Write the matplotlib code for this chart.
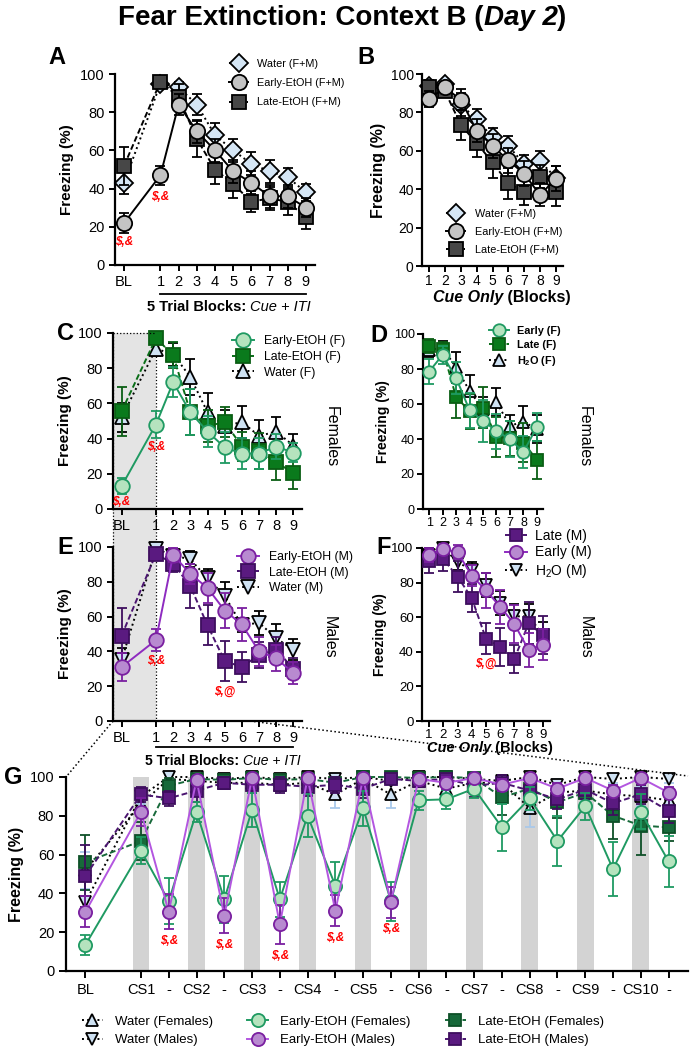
import matplotlib
matplotlib.use("Agg")
import matplotlib.pyplot as plt
from matplotlib.lines import Line2D
from matplotlib.patches import Rectangle
from matplotlib.text import Annotation
from matplotlib.transforms import blended_transform_factory

plt.rcParams["font.family"] = "Liberation Sans"
plt.rcParams["mathtext.fontset"] = "custom"
plt.rcParams["mathtext.rm"] = "Liberation Sans"
plt.rcParams["mathtext.bf"] = "Liberation Sans:bold"
plt.rcParams["mathtext.it"] = "Liberation Sans:italic"

# ---------------- data ----------------
blocks_bl = [-1, 1, 2, 3, 4, 5, 6, 7, 8, 9]
blocks_bl_labels = ["BL", "1", "2", "3", "4", "5", "6", "7", "8", "9"]
blocks = [1, 2, 3, 4, 5, 6, 7, 8, 9]

a_water = [43, 95, 93, 84, 68, 60, 53, 49, 46, 38]
a_water_err = [6, 2, 3, 5.5, 6.5, 6, 6, 6, 5, 4.5]
a_early = [22, 47, 84, 70, 60, 49, 43, 36, 36, 30]
a_early_err = [5, 5, 5.5, 6, 6, 6, 6, 6, 6, 5]
a_late = [52, 96, 88, 66, 50, 42.5, 33, 35, 33, 25]
a_late_err = [10, 2, 7, 9.5, 7.5, 7.5, 5.5, 6, 7, 6]

b_water = [94, 95, 84, 76.5, 67, 62.6, 53, 54.5, 46]
b_water_err = [3, 2, 6, 5.5, 5, 5, 5, 5.5, 6]
b_early = [87, 93, 86.5, 70.5, 62.5, 55, 48, 37, 45.5]
b_early_err = [4, 3, 5.5, 6, 6.5, 6.5, 6.5, 6, 6.5]
b_late = [93, 91, 73.5, 64, 54, 43, 38.5, 46.5, 38.5]
b_late_err = [3, 3, 8, 7, 8, 8, 6.5, 6, 7.5]

c_early = [13, 48, 72, 55, 44, 35, 31.5, 31.5, 35.5, 32]
c_early_err = [4.5, 7.5, 8.5, 13, 9, 9, 9, 9, 7, 5.5]
c_late = [55.5, 97, 87.5, 55, 47, 49.5, 35.5, 33, 26.5, 20.5]
c_late_err = [14, 2.5, 7.5, 13, 9, 8.5, 8, 10, 10, 9]
c_water = [52, 91, 88, 75, 55, 47, 49.5, 41.5, 44, 36]
c_water_err = [8, 4, 6.5, 10, 11, 9, 9, 9, 8, 6.5]

d_early = [78.5, 88, 75, 56.5, 50.5, 44.5, 40, 32.5, 47]
d_early_err = [7, 5, 9, 10, 12, 10, 10.5, 9, 8]
d_late = [93, 91.5, 64, 56, 58, 41, 40.5, 38, 28]
d_late_err = [4, 4, 12, 10, 11.5, 11.5, 10, 11, 11]
d_water = [91, 92, 81, 67.5, 57, 61, 47.5, 50, 45.5]
d_water_err = [4, 4, 9, 9, 7, 8, 6.5, 9, 8]

e_early = [31, 46.5, 95.5, 84.5, 76.5, 63.5, 55.5, 40, 36, 27.5]
e_early_err = [8, 6.5, 4, 6, 8.5, 10, 9.5, 8.5, 7.5, 6.5]
e_late = [49, 96, 90.5, 77.5, 55, 34.5, 31, 38, 41, 30]
e_late_err = [16, 3, 5, 12.5, 11.5, 11.5, 8.5, 7.5, 7, 6]
e_water = [35, 99, 95, 93, 82, 72, 55, 56.5, 47.5, 41]
e_water_err = [7, 2, 4, 4.5, 5.5, 8, 4, 7, 8, 6]

f_late = [92.5, 93.5, 83.5, 71, 47.5, 43, 36, 56.5, 49.5]
f_late_err = [7, 7, 9, 8, 9, 11, 8, 12, 11]
f_early = [96, 99.5, 97.5, 84, 75.5, 66, 56, 41, 44]
f_early_err = [4, 2, 4, 6, 10, 10, 11, 10, 9]
f_water = [96, 100, 92, 87, 78.5, 68, 60.5, 60.5, 50]
f_water_err = [4, 2, 5, 5, 7, 7, 7, 7, 7]

g_pos = [-1] + list(range(1, 21))
g_labels = ["BL"]
for k in range(1, 11):
    g_labels += [f"CS{k}", "-"]
cs_pos = [2 * k - 1 for k in range(1, 11)]

g_early_f = [13.5, 62, 36, 82, 37, 83, 37, 80, 44, 84, 36, 88, 88.5, 94, 74, 89, 67, 85, 52.5, 82, 56.5]
g_early_f_err = [5, 7, 12, 5, 12, 9, 9, 11, 12, 9, 10, 5, 5, 5, 12, 6, 13, 7, 14, 9, 13]
g_early_m = [30.5, 82, 30.5, 98.5, 28.5, 99.5, 24, 99.5, 31, 99.5, 35.5, 99, 97, 99.5, 96, 99.5, 94, 99.5, 93, 99.5, 92]
g_early_m_err = [8, 7, 9, 2, 9, 1, 10, 1, 8, 1, 8, 2, 3, 1, 3, 1, 3, 1, 3, 1, 3]
g_late_f = [56, 67, 95.5, 99, 98.5, 99.5, 98.5, 99, 97, 100, 100, 99.5, 100, 99.5, 89.5, 94, 87, 92, 80, 75, 74]
g_late_f_err = [14, 10, 4, 2, 3, 1, 2, 2, 3, 1, 1, 1, 1, 2, 9, 5, 8, 6, 12, 15, 7]
g_late_m = [49, 91, 89, 93, 97, 96, 96, 95, 96, 94, 99, 98, 99, 95.5, 97, 93, 88.5, 93.5, 86.5, 91, 82.5]
g_late_m_err = [16, 4, 4, 6, 3, 4, 4, 5, 4, 5, 2, 3, 2, 6, 4, 6, 5, 5, 6, 5, 6]
g_water_f = [52, 86, 99, 98, 97, 97, 96, 97, 91, 99, 91, 98, 94, 97, 97, 84, 92, 93, 91, 90, 88]
g_water_f_err = [9.5, 5, 2, 2, 3, 3, 3, 3, 7, 1, 7, 2, 4, 3, 3, 10, 5, 5, 5, 5, 5]
g_water_m = [35.5, 90, 100, 100, 99, 100, 99, 100, 99, 100, 98, 100, 100, 99, 98, 100, 96, 100, 99, 100, 99]
g_water_m_err = [6, 4, 1, 1, 2, 1, 2, 1, 2, 1, 2, 1, 1, 2, 3, 1, 3, 1, 2, 1, 2]

# ---------------- styles ----------------
# (face, edge, line colour, marker, linestyle)
st_water = ("#d5e6f5", "black", "black", "D", ":")
st_early = ("#c4c4c4", "black", "black", "o", "-")
st_late = ("#474747", "black", "black", "s", (0, (3, 1.5)))
st_ef = ("#b5e3be", "#1f9a62", "#1f9a62", "o", "-")
st_lf = ("#0a7a1c", "#0a5e14", "#0a6e18", "s", (0, (3, 1.5)))
st_wf = ("#cfe2f3", "black", "black", "^", ":")
st_em = ("#b88ad0", "#7a1fa0", "#8e2bc0", "o", "-")
st_lm = ("#5a1a80", "#3e0e5e", "#4a1470", "s", (0, (3, 1.5)))
st_wm = ("#cfe2f3", "black", "black", "v", ":")
st_gef = ("#b5e3be", "#1f9a62", "#1f9a62", "o", "-")
st_gem = ("#b88ad0", "#7a1fa0", "#b356e0", "o", "-")
st_glf = ("#17693a", "#0e5028", "#17693a", "s", (0, (3, 1.5)))
st_glm = ("#5a1a80", "#3e0e5e", "#4a1470", "s", (0, (3, 1.5)))

W, H = 698, 1050
fig = plt.figure(figsize=(W / 100, H / 100), dpi=100)


def add_ax(x0, y0, x1, y1):
    ax = fig.add_axes([x0 / W, 1 - y1 / H, (x1 - x0) / W, (y1 - y0) / H])
    ax.set_facecolor("none")
    for s in ("top", "right"):
        ax.spines[s].set_visible(False)
    for s in ("left", "bottom"):
        ax.spines[s].set_linewidth(1.6)
    ax.tick_params(width=1.4, length=4)
    ax.set_ylim(0, 100)
    ax.set_yticks([0, 20, 40, 60, 80, 100])
    return ax


def draw(ax, x, y, err, st, label, ms, z, ecolor=None):
    face, edge, lc, marker, ls = st
    eb = ax.errorbar(x, y, yerr=err, fmt="none", ecolor=ecolor or edge,
                     elinewidth=1.3, capsize=3.5, capthick=1.3, zorder=z)
    for art in eb.get_children():
        art.set_clip_on(False)
    h, = ax.plot(x, y, ls=ls, lw=1.4, color=lc, marker=marker, ms=ms,
                 mfc=face, mec=edge, mew=1.3, zorder=z + 0.1, label=label,
                 clip_on=False)
    return h


def red(ax, x, y, txt, size=8.5):
    ax.text(x, y, txt, color="red", fontsize=size, fontweight="bold",
            fontstyle="italic", ha="center", va="top", zorder=20)


def mixed(x_px, y_px, parts, size):
    # parts: (text, weight, style); pieces chained left to right
    prev = fig.text(x_px / W, 1 - y_px / H, parts[0][0], fontsize=size,
                    fontweight=parts[0][1], fontstyle=parts[0][2],
                    ha="left", va="center")
    for s, w, st in parts[1:]:
        prev = fig.add_artist(Annotation(s, xy=(1, 0), xycoords=prev,
                                         fontsize=size, fontweight=w,
                                         fontstyle=st, ha="left", va="bottom"))
    return prev


def underline(ax, x0, x1, y):
    tr = blended_transform_factory(ax.transData, ax.transAxes)
    ax.add_line(Line2D([x0, x1], [y, y], transform=tr, color="black",
                       lw=1.3, clip_on=False))


def side(x_px, y_px, txt):
    fig.text(x_px / W, 1 - y_px / H, txt, rotation=-90, fontsize=11.5,
             ha="center", va="center")


def letter(x_px, y_px, txt):
    fig.text(x_px / W, 1 - y_px / H, txt, fontsize=17, fontweight="bold",
             va="center")


# ---------------- title ----------------
mixed(118, 18, [("Fear Extinction: Context B (", "bold", "normal"),
                ("Day 2", "bold", "italic"), (")", "bold", "normal")], 20)

# ---------------- A ----------------
ax = add_ax(115, 74, 315, 265)
hw = draw(ax, blocks_bl, a_water, a_water_err, st_water, "Water (F+M)", 9, 2)
hl = draw(ax, blocks_bl, a_late, a_late_err, st_late, "Late-EtOH (F+M)", 10.5, 3)
he = draw(ax, blocks_bl, a_early, a_early_err, st_early, "Early-EtOH (F+M)", 11, 4)
ax.set_xlim(-1.5, 9.5)
ax.set_xticks(blocks_bl)
ax.set_xticklabels(blocks_bl_labels)
ax.tick_params(labelsize=10.5)
ax.set_ylabel("Freezing (%)", fontsize=11, fontweight="bold", labelpad=4)
ax.legend(handles=[hw, he, hl], loc="upper left", bbox_to_anchor=(0.52, 1.13),
          frameon=False, fontsize=7.8, handlelength=1.8, labelspacing=0.85,
          handletextpad=0.8)
red(ax, -1, a_early[0] - a_early_err[0] - 2, "$,&")
red(ax, 1, a_early[1] - a_early_err[1] - 3, "$,&")
underline(ax, 1, 9, -0.152)
mixed(147, 307, [("5 Trial Blocks: ", "bold", "normal"),
                 ("Cue + ITI", "normal", "italic")], 10.5)
letter(48, 57, "A")

# ---------------- B ----------------
ax = add_ax(422, 74, 563, 266)
hw = draw(ax, blocks, b_water, b_water_err, st_water, "Water (F+M)", 9, 2)
hl = draw(ax, blocks, b_late, b_late_err, st_late, "Late-EtOH (F+M)", 10.5, 3)
he = draw(ax, blocks, b_early, b_early_err, st_early, "Early-EtOH (F+M)", 11, 4)
ax.set_xlim(0.55, 9.45)
ax.set_xticks(blocks)
ax.tick_params(labelsize=10, pad=2)
ax.set_ylabel("Freezing (%)", fontsize=11.5, fontweight="bold", labelpad=3)
ax.legend(handles=[hw, he, hl], loc="upper left", bbox_to_anchor=(0.1, 0.35),
          frameon=False, fontsize=7.8, handlelength=1.8, labelspacing=0.75,
          handletextpad=0.9)
mixed(433, 297, [("Cue Only", "bold", "italic"), (" (Blocks)", "bold", "normal")], 11.5)
letter(357, 57, "B")

# ---------------- C ----------------
axc = add_ax(113, 333, 302, 509)
hw = draw(axc, blocks_bl, c_water, c_water_err, st_wf, "Water (F)", 10, 2)
hl = draw(axc, blocks_bl, c_late, c_late_err, st_lf, "Late-EtOH (F)", 10, 3)
he = draw(axc, blocks_bl, c_early, c_early_err, st_ef, "Early-EtOH (F)", 10.5, 4)
axc.set_xlim(-1.5, 9.5)
axc.set_xticks(blocks_bl)
axc.set_xticklabels(blocks_bl_labels)
axc.tick_params(labelsize=10.5)
axc.set_ylabel("Freezing (%)", fontsize=11, fontweight="bold", labelpad=4)
axc.legend(handles=[he, hl, hw], loc="upper left", bbox_to_anchor=(0.57, 1.05),
           frameon=False, fontsize=8.8, handlelength=1.8, labelspacing=0.3,
           handletextpad=0.8)
red(axc, -1, c_early[0] - c_early_err[0] - 1, "$,&")
red(axc, 1, c_early[1] - c_early_err[1] - 2, "$,&")
side(331, 437, "Females")
letter(57, 333, "C")

# ---------------- D ----------------
ax = add_ax(423, 334, 543, 509)
hw = draw(ax, blocks, d_water, d_water_err, st_wf, "H$_\\mathbf{2}$O (F)", 8.5, 2)
hl = draw(ax, blocks, d_late, d_late_err, st_lf, "Late (F)", 8.5, 3)
he = draw(ax, blocks, d_early, d_early_err, st_ef, "Early (F)", 9, 4)
ax.set_xlim(0.55, 9.45)
ax.set_xticks(blocks)
ax.tick_params(labelsize=9, pad=2)
ax.set_ylabel("Freezing (%)", fontsize=10, fontweight="bold", labelpad=3)
ax.legend(handles=[he, hl, hw], loc="upper left", bbox_to_anchor=(0.47, 1.1),
          frameon=False, prop={"size": 7.8, "weight": "bold"}, handlelength=1.8,
          labelspacing=0.35, handletextpad=0.8)
side(584, 437, "Females")
letter(370, 335, "D")

# ---------------- E ----------------
axe = add_ax(113, 547, 302, 721)
hw = draw(axe, blocks_bl, e_water, e_water_err, st_wm, "Water (M)", 10, 2)
hl = draw(axe, blocks_bl, e_late, e_late_err, st_lm, "Late-EtOH (M)", 10, 3)
he = draw(axe, blocks_bl, e_early, e_early_err, st_em, "Early-EtOH (M)", 10.5, 4)
axe.set_xlim(-1.5, 9.5)
axe.set_xticks(blocks_bl)
axe.set_xticklabels(blocks_bl_labels)
axe.tick_params(labelsize=10.5)
axe.set_ylabel("Freezing (%)", fontsize=11, fontweight="bold", labelpad=4)
axe.legend(handles=[he, hl, hw], loc="upper left", bbox_to_anchor=(0.6, 1.04),
           frameon=False, fontsize=8.8, handlelength=1.8, labelspacing=0.3,
           handletextpad=0.8)
red(axe, 1, e_early[1] - e_early_err[1] - 2, "$,&")
red(axe, 5, e_late[5] - e_late_err[5] - 3, "$,@")
underline(axe, 1, 9, -0.15)
mixed(145, 761, [("5 Trial Blocks: ", "bold", "normal"),
                 ("Cue + ITI", "normal", "italic")], 10)
side(329, 637, "Males")
letter(57, 547, "E")

# ---------------- F ----------------
ax = add_ax(422, 548, 550, 721)
hw = draw(ax, blocks, f_water, f_water_err, st_wm, "H$_2$O (M)", 8.5, 2)
hl = draw(ax, blocks, f_late, f_late_err, st_lm, "Late (M)", 9, 3)
he = draw(ax, blocks, f_early, f_early_err, st_em, "Early (M)", 9.5, 4)
ax.set_xlim(0.5, 9.5)
ax.set_xticks(blocks)
ax.tick_params(labelsize=9.5, pad=2)
ax.set_ylabel("Freezing (%)", fontsize=10, fontweight="bold", labelpad=3)
ax.legend(handles=[hl, he, hw], loc="upper left", bbox_to_anchor=(0.55, 1.18),
          frameon=False, fontsize=10, handlelength=1.6, labelspacing=0.15,
          handletextpad=0.6)
red(ax, 5, f_late[4] - f_late_err[4] - 2, "$,@")
mixed(427, 748, [("Cue Only", "bold", "italic"), (" (Blocks)", "bold", "normal")], 10.5)
side(585, 637, "Males")
letter(376, 548, "F")

# ---------------- shaded BL region over C and E ----------------
x_one = axc.transData.transform((1, 0))[0]
x_left = 113
fig.add_artist(Rectangle((x_left / W, 1 - 721 / H), (x_one - x_left) / W,
                         (721 - 333) / H, transform=fig.transFigure,
                         facecolor="#e4e4e4", edgecolor="none", zorder=-1))
for xx in (x_left, x_one):
    fig.add_artist(Line2D([xx / W, xx / W], [1 - 333 / H, 1 - 721 / H],
                          transform=fig.transFigure, color="black", lw=0.9,
                          ls=":", zorder=-0.5))
fig.add_artist(Line2D([x_left / W, x_one / W], [1 - 333 / H, 1 - 333 / H],
                      transform=fig.transFigure, color="black", lw=0.9, ls=":"))

# zoom lines from E to G
fig.add_artist(Line2D([113 / W, 66 / W], [1 - 721 / H, 1 - 777 / H],
                      transform=fig.transFigure, color="black", lw=1.1, ls=":"))
fig.add_artist(Line2D([250 / W, 688 / W], [1 - 721 / H, 1 - 776 / H],
                      transform=fig.transFigure, color="black", lw=1.1, ls=":"))

# ---------------- G ----------------
ax = add_ax(66, 777, 688, 971)
ax.bar(cs_pos, [100] * len(cs_pos), width=0.6, color="#d3d3d3", zorder=0)
hwf = draw(ax, g_pos, g_water_f, g_water_f_err, st_wf, "Water (Females)", 9, 2, ecolor="#a9c9ea")
hwm = draw(ax, g_pos, g_water_m, g_water_m_err, st_wm, "Water (Males)", 9, 2.2, ecolor="#a9c9ea")
hlf = draw(ax, g_pos, g_late_f, g_late_f_err, st_glf, "Late-EtOH (Females)", 9, 3)
hlm = draw(ax, g_pos, g_late_m, g_late_m_err, st_glm, "Late-EtOH (Males)", 9, 3.2)
hef = draw(ax, g_pos, g_early_f, g_early_f_err, st_gef, "Early-EtOH (Females)", 9.5, 4)
hem = draw(ax, g_pos, g_early_m, g_early_m_err, st_gem, "Early-EtOH (Males)", 9.5, 4.2)
ax.set_xlim(-1.7, 20.7)
ax.set_xticks(g_pos)
ax.set_xticklabels(g_labels)
ax.tick_params(labelsize=10.5, length=5)
ax.set_ylabel("Freezing (%)", fontsize=11.5, fontweight="bold", labelpad=4)
for i in (2, 4, 6, 8, 10):
    j = g_pos.index(i)
    red(ax, i, g_early_m[j] - g_early_m_err[j] - 3, "$,&")
letter(4, 778, "G")

fig.legend(handles=[hwf, hwm, hef, hem, hlf, hlm], ncol=3, loc="upper left",
           bbox_to_anchor=(70 / W, 1 - 1004 / H), frameon=False, fontsize=9.5,
           handlelength=1.6, handletextpad=0.9, columnspacing=2.6,
           labelspacing=0.45)

fig.savefig("out.png", dpi=100)
